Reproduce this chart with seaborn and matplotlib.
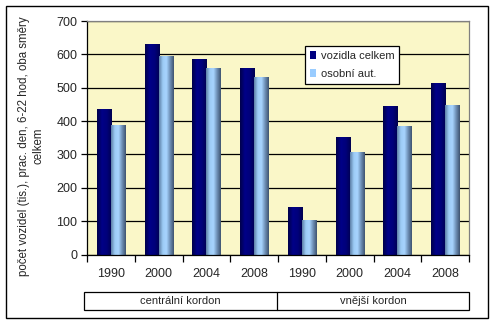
import numpy as np
import pandas as pd
import matplotlib
matplotlib.use("Agg")
import matplotlib.pyplot as plt
from matplotlib.colors import LinearSegmentedColormap
from matplotlib.patches import Rectangle
from matplotlib.lines import Line2D
import seaborn as sns

years = ["1990", "2000", "2004", "2008", "1990", "2000", "2004", "2008"]
groups = ["centrální kordon", "vnější kordon"]
vozidla = [435, 630, 587, 560, 142, 351, 444, 513]
osobni = [387, 596, 560, 531, 103, 306, 384, 447]
series = ["vozidla celkem", "osobní aut."]

pos = [f"{i}" for i in range(len(years))]
df = pd.DataFrame({
    "pos": pos * 2,
    "value": vozidla + osobni,
    "series": [series[0]] * len(pos) + [series[1]] * len(pos),
})

sns.set_theme(style="white")
plt.rcParams["font.family"] = ["Liberation Sans", "DejaVu Sans"]

fig = plt.figure(figsize=(4.95, 3.24), dpi=100)
ax = fig.add_axes([87 / 495, 1 - 254.5 / 324, (469 - 87) / 495, (254.5 - 21) / 324])
ax.set_facecolor("#FAF7C8")

sns.barplot(data=df, x="pos", y="value", hue="series", order=pos,
            hue_order=series, palette=["#000080", "#99CCFF"],
            width=0.59, ax=ax, legend=True, saturation=1, linewidth=0)

# gradient fill for bars
cm_dark = LinearSegmentedColormap.from_list("d", ["#00004a", "#000088", "#00007a", "#000050"])
cm_light = LinearSegmentedColormap.from_list("l", ["#5d7fa6", "#9ccbf5", "#a8d4ff", "#6d8fb5", "#3f5470"])
grad = np.linspace(0, 1, 64).reshape(1, -1)
n = len(pos)
for i, p in enumerate(ax.patches[:2 * n]):
    x0, y0 = p.get_x(), p.get_y()
    w, h = p.get_width(), p.get_height()
    cmap = cm_dark if i < n else cm_light
    ax.imshow(grad, cmap=cmap, aspect="auto", extent=[x0, x0 + w, y0, y0 + h],
              zorder=p.get_zorder() + 0.1, interpolation="bilinear")
ax.set_xlim(-0.5, n - 0.5)
ax.set_ylim(0, 700)

ax.set_yticks(range(0, 701, 100))
ax.yaxis.grid(True, color="black", linewidth=0.9)
ax.set_axisbelow(True)
ax.tick_params(axis="y", labelsize=9, length=4, width=0.9, color="black", pad=3, left=True)
ax.set_xticks(np.arange(-0.5, n, 1))
ax.set_xticklabels([""] * (n + 1))
ax.set_xticks(np.arange(n), minor=True)
ax.set_xticklabels(years, minor=True)
ax.tick_params(axis="x", which="major", length=5, width=0.9, color="black", bottom=True)
ax.tick_params(axis="x", which="minor", length=0, labelsize=9, pad=10)
ax.set_xlabel("")
ax.set_ylabel("")

for s in ["top", "right"]:
    ax.spines[s].set_color("#808080")
    ax.spines[s].set_linewidth(0.9)
for s in ["left", "bottom"]:
    ax.spines[s].set_color("black")
    ax.spines[s].set_linewidth(0.9)

leg = ax.legend(loc="upper left", bbox_to_anchor=((305 - 87) / 382, (254.5 - 46) / 233.5),
                frameon=True, fontsize=8, handlelength=0.55, handleheight=0.7,
                handletextpad=0.4, borderpad=0.45, labelspacing=0.7, fancybox=False,
                borderaxespad=0)
leg.get_frame().set_edgecolor("black")
leg.get_frame().set_linewidth(0.9)
leg.get_frame().set_facecolor("white")
leg.get_frame().set_alpha(1)

# group box below axis
def fx(px):
    return px / 495
def fy(py):
    return 1 - py / 324

# y label placed manually
fig.text(fx(31), fy(146), "počet vozidel (tis.), prac. den, 6-22 hod, oba směry\ncelkem",
         rotation=90, ha="center", va="center", fontsize=8.3, linespacing=1.25,
         multialignment="center")

lw = 0.9
box_l, box_r, box_t, box_b, box_m = 83.5, 469, 292, 310, 277
fig.add_artist(Rectangle((fx(box_l), fy(box_b)), fx(box_r) - fx(box_l), fy(box_t) - fy(box_b),
                         fill=False, edgecolor="black", linewidth=lw, transform=fig.transFigure))
fig.add_artist(Line2D([fx(box_m), fx(box_m)], [fy(box_t), fy(box_b)], color="black",
                      linewidth=lw, transform=fig.transFigure))
fig.text(fx((box_l + box_m) / 2), fy((box_t + box_b) / 2), groups[0], ha="center",
         va="center", fontsize=8)
fig.text(fx((box_m + box_r) / 2), fy((box_t + box_b) / 2), groups[1], ha="center",
         va="center", fontsize=8)

# outer border
fig.add_artist(Rectangle((fx(5.5), fy(318)), fx(488) - fx(5.5), fy(5.5) - fy(318),
                         fill=False, edgecolor="black", linewidth=1.0, transform=fig.transFigure))

fig.savefig("out.png", dpi=100)
